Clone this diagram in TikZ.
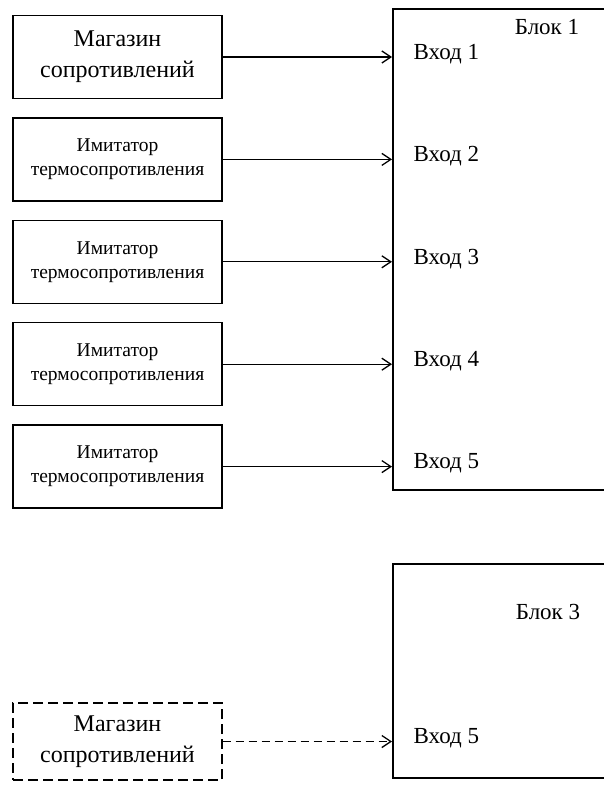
\documentclass[tikz,border=0pt]{standalone}
\usepackage{fontspec}
\setmainfont{Liberation Serif}
\usetikzlibrary{arrows.meta, positioning}
\tikzset{
  srcBox/.style={draw, line width=1.4pt, minimum width=209pt, minimum height=83pt, align=center, inner sep=0pt},
  bigText/.style={font=\fontsize{24}{31}\selectfont},
  smallText/.style={font=\fontsize{19.5}{24}\selectfont},
  blockBox/.style={draw, line width=1.6pt, anchor=north west, minimum width=320pt, inner sep=0pt},
  inLabel/.style={anchor=mid west, inner sep=0pt, font=\fontsize{23}{28}\selectfont},
}

\begin{document}
\begin{tikzpicture}[x=1pt, y=-1pt, >={Straight Barb[length=9pt,width=12pt]}, line width=1.3pt, node distance=18pt]
\useasboundingbox (0,0) rectangle (604,786);
\node[blockBox, minimum height=481pt] (blk1) at (392,8) {};
\node[blockBox, minimum height=214pt] (blk3) at (392,563) {};
\node[inLabel, anchor=center] (blk1name) at (547,27) {Блок 1};
\node[inLabel, anchor=center] (blk3name) at (548,612) {Блок 3};
\node[srcBox, bigText] (m1) at (117.5,57) {Магазин\\сопротивлений};
\node[srcBox, smallText, below=of m1] (m2) {Имитатор\\термосопротивления};
\node[srcBox, smallText, below=of m2] (m3) {Имитатор\\термосопротивления};
\node[srcBox, smallText, below=of m3] (m4) {Имитатор\\термосопротивления};
\node[srcBox, smallText, below=of m4] (m5) {Имитатор\\термосопротивления};
\node[srcBox, bigText, dash pattern=on 10pt off 5pt, minimum height=77pt] (m6) at (117.5,741.5) {Магазин\\сопротивлений};
\foreach \i in {1,...,5} {
  \draw[->] (m\i.east) -- (m\i.east -| blk1.west);
  \path (m\i.east -| blk1.west) ++(21,0) node[inLabel] (in\i) {Вход \i};
}
\draw[->, dash pattern=on 8pt off 5pt] (m6.east) -- (m6.east -| blk3.west);
\path (m6.east -| blk3.west) ++(21,0) node[inLabel] (in6) {Вход 5};
\end{tikzpicture}
\end{document}
